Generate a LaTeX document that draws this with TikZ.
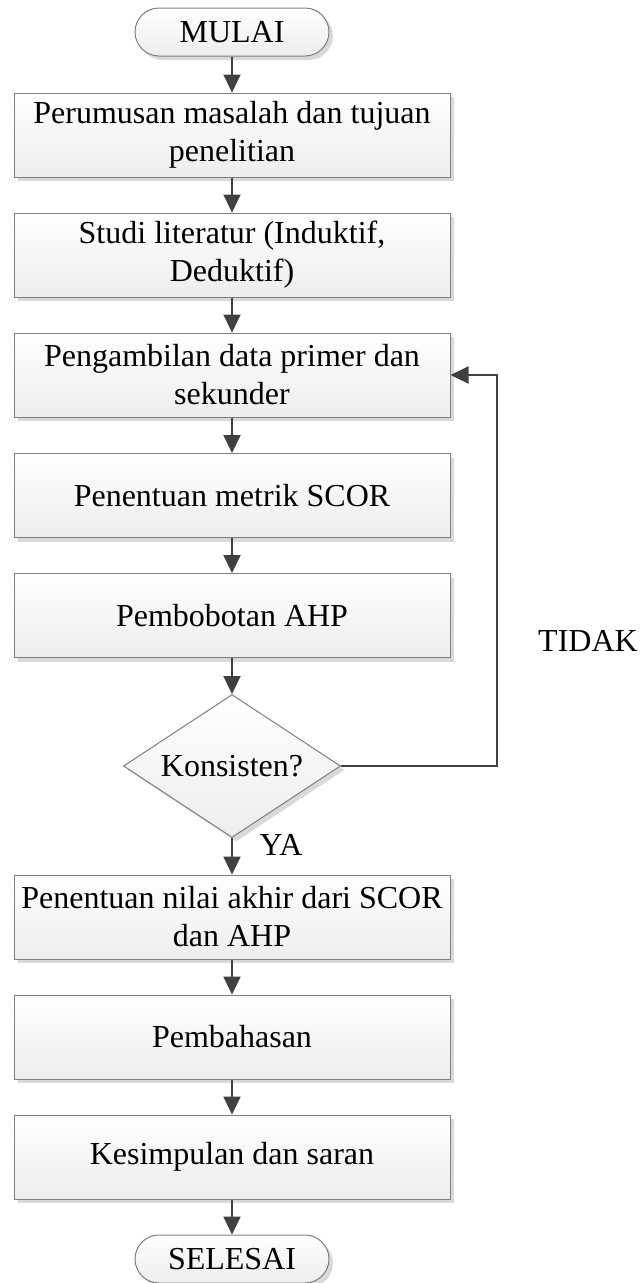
\documentclass[tikz,border=0pt]{standalone}
\usepackage{fontspec}
\setmainfont{Liberation Serif}
\usetikzlibrary{shapes.geometric,shadows,arrows.meta}
\definecolor{boxline}{HTML}{7F7F7F}
\definecolor{boxbot}{HTML}{EDEDED}
\definecolor{conncol}{HTML}{404040}
\definecolor{shadowc}{HTML}{D0D0D0}
\begin{document}
\begin{tikzpicture}[x=1pt,y=-1pt,
  base/.style={draw=boxline, line width=1pt, top color=white, bottom color=boxbot,
    font=\fontsize{32}{38}\selectfont, align=center, inner sep=0pt,
    drop shadow={shadow xshift=4pt, shadow yshift=-4pt, fill=shadowc, opacity=0.8}},
  proc/.style={base, rectangle, minimum width=436pt, minimum height=84pt},
  term/.style={base, rectangle, rounded corners=24pt, minimum width=194pt, minimum height=48pt},
  decide/.style={base, diamond, aspect=1.52, minimum width=217pt, minimum height=143pt},
  conn/.style={draw=conncol, line width=2.2pt, -{Triangle[length=18pt,width=17pt]}},
  lbl/.style={font=\fontsize{32}{38}\selectfont, inner sep=0pt}
]
\useasboundingbox (0,0) rectangle (642,1283);
\node[term] (start) at (232,32) {MULAI};
\node[proc] (p1) at (232,135) {Perumusan masalah dan tujuan\\penelitian};
\node[proc] (p2) at (232,255) {Studi literatur (Induktif,\\Deduktif)};
\node[proc] (p3) at (232,375) {Pengambilan data primer dan\\sekunder};
\node[proc] (p4) at (232,495.5) {Penentuan metrik SCOR};
\node[proc] (p5) at (232,615.5) {Pembobotan AHP};
\node[decide] (dec) at (232,766) {Konsisten?};
\node[proc] (p6) at (232,917) {Penentuan nilai akhir dari SCOR\\dan AHP};
\node[proc] (p7) at (232,1037) {Pembahasan};
\node[proc] (p8) at (232,1157) {Kesimpulan dan saran};
\node[term] (stop) at (232,1259) {SELESAI};
\coordinate (loopc) at (497,766);
\draw[conn] (start) -- (p1);
\draw[conn] (p1) -- (p2);
\draw[conn] (p2) -- (p3);
\draw[conn] (p3) -- (p4);
\draw[conn] (p4) -- (p5);
\draw[conn] (p5) -- (dec);
\draw[conn] (dec) -- (p6);
\draw[conn] (p6) -- (p7);
\draw[conn] (p7) -- (p8);
\draw[conn] (p8) -- (stop);
\draw[conn] (dec.east) -- (loopc) |- (p3.east);
\node[lbl] (tidak) at (588,641) {TIDAK};
\node[lbl] (ya) at (281,845) {YA};
\end{tikzpicture}
\end{document}
